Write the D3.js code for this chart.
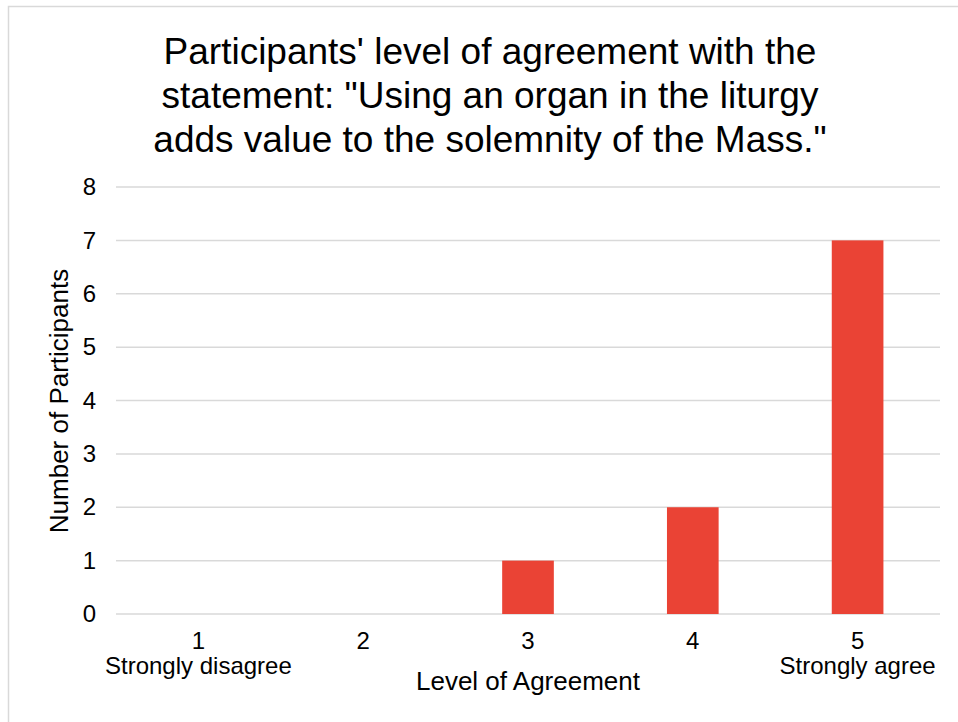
<!DOCTYPE html>
<html>
<head>
<meta charset="utf-8">
<script src="https://cdn.jsdelivr.net/npm/d3@7"></script>
<style>
  body { margin: 0; background: #fff; }
  text { font-family: "Liberation Sans", Arial, sans-serif; fill: #000; }
</style>
</head>
<body>
<div id="graphic"></div>
<script>
var levels = ["1", "2", "3", "4", "5"];
var counts = [0, 0, 1, 2, 7];
var levelNotes = ["Strongly disagree", "", "", "", "Strongly agree"];
var yTicks = [0, 1, 2, 3, 4, 5, 6, 7, 8];
var titleLines = [
  "Participants' level of agreement with the",
  "statement: \"Using an organ in the liturgy",
  "adds value to the solemnity of the Mass.\""
];

var width = 958;
var height = 722;
var plotLeft = 116;
var plotRight = 940;
var plotTop = 187;
var plotBottom = 614;
var barColor = "#ea4335";

var svg = d3.select("#graphic")
  .append("svg")
  .attr("width", width)
  .attr("height", height);

// chart frame
svg.append("rect")
  .attr("x", 8.5)
  .attr("y", 6.5)
  .attr("width", width + 20)
  .attr("height", height + 20)
  .attr("fill", "#fff")
  .attr("stroke", "#d9d9d9")
  .attr("stroke-width", 1.5);

var xScale = d3.scaleBand()
  .domain(levels)
  .range([plotLeft, plotRight])
  .padding(0);

var yScale = d3.scaleLinear()
  .domain([0, 8])
  .range([plotBottom, plotTop]);

// title
svg.append("text")
  .attr("text-anchor", "middle")
  .style("font-size", "37px")
  .selectAll("tspan")
  .data(titleLines)
  .join("tspan")
  .attr("x", 490)
  .attr("y", (d, i) => 64 + i * 44)
  .text(d => d);

// gridlines
svg.append("g")
  .selectAll("line")
  .data(yTicks)
  .join("line")
  .attr("x1", plotLeft)
  .attr("x2", plotRight)
  .attr("y1", d => yScale(d))
  .attr("y2", d => yScale(d))
  .attr("stroke", "#d9d9d9")
  .attr("stroke-width", 1.5);

// y axis labels
var yAxis = d3.axisLeft(yScale)
  .tickValues(yTicks)
  .tickSize(0)
  .tickPadding(0);

svg.append("g")
  .attr("transform", "translate(96,0)")
  .call(yAxis)
  .call(g => g.select(".domain").remove())
  .selectAll("text")
  .style("font-size", "24px")
  .attr("font-family", null)
  .attr("fill", "#000");

// bars
var barWidth = xScale.bandwidth() / 3.19;
var barData = levels.map((d, i) => ({ level: d, count: counts[i] }));

svg.append("g")
  .selectAll("rect")
  .data(barData.filter(d => d.count > 0))
  .join("rect")
  .attr("x", d => xScale(d.level) + (xScale.bandwidth() - barWidth) / 2)
  .attr("y", d => yScale(d.count))
  .attr("width", barWidth)
  .attr("height", d => yScale(0) - yScale(d.count))
  .attr("fill", barColor);

// x axis labels
var xLabels = svg.append("g")
  .selectAll("text")
  .data(levels)
  .join("text")
  .attr("text-anchor", "middle")
  .style("font-size", "24px");

xLabels.append("tspan")
  .attr("x", d => xScale(d) + xScale.bandwidth() / 2)
  .attr("y", 649)
  .text(d => d);

xLabels.append("tspan")
  .attr("x", d => xScale(d) + xScale.bandwidth() / 2)
  .attr("y", 674)
  .text((d, i) => levelNotes[i]);

// axis titles
svg.append("text")
  .attr("text-anchor", "middle")
  .attr("x", 528)
  .attr("y", 690)
  .style("font-size", "26px")
  .text("Level of Agreement");

svg.append("text")
  .attr("text-anchor", "middle")
  .attr("transform", "translate(68,401) rotate(-90)")
  .style("font-size", "26px")
  .text("Number of Participants");
</script>
</body>
</html>
